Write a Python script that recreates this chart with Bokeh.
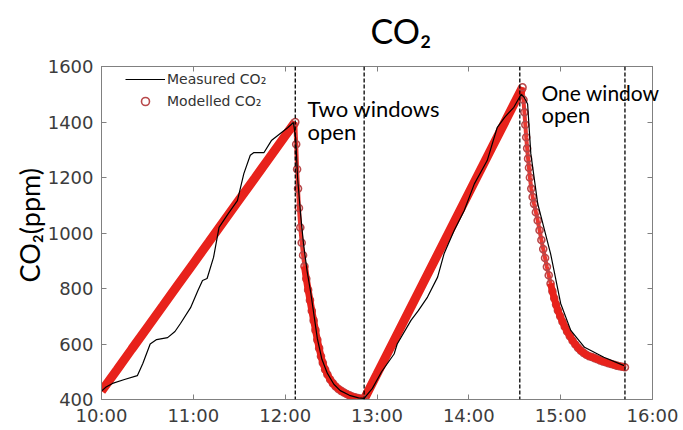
from bokeh.plotting import figure
from bokeh.models import (Span, Label, LinearAxis, FixedTicker, Legend, LegendItem, Range1d)
from bokeh.embed import file_html
from bokeh.resources import INLINE
import math

# ---------------- data (hours of day, ppm) ----------------
measured_t = [10.00, 10.05, 10.12, 10.25, 10.39, 10.45, 10.53, 10.60, 10.72, 10.80,
              10.86, 10.97, 11.05, 11.10, 11.15, 11.22, 11.28, 11.38, 11.48, 11.55,
              11.62, 11.66, 11.77, 11.85, 12.03, 12.09, 12.115, 12.135, 12.17, 12.20,
              12.24, 12.28, 12.35, 12.40, 12.46, 12.53, 12.60, 12.70, 12.80, 12.86,
              12.95, 13.05, 13.186, 13.22, 13.37, 13.45, 13.55, 13.66, 13.73, 13.84,
              13.95, 14.06, 14.20, 14.31, 14.39, 14.49, 14.57, 14.60, 14.64, 14.675,
              14.75, 14.89, 15.00, 15.11, 15.26, 15.47, 15.69]
measured_co2 = [430, 445, 458, 472, 486, 530, 600, 616, 623, 645,
                674, 731, 793, 829, 836, 912, 1020, 1070, 1117, 1214,
                1280, 1290, 1290, 1333, 1380, 1398, 1340, 1200, 1060, 960,
                860, 782, 620, 545, 494, 455, 432, 415, 406, 404,
                440, 500, 564, 600, 685, 720, 769, 841, 925, 1009,
                1081, 1177, 1261, 1381, 1417, 1453, 1500, 1490, 1465, 1286,
                1106, 926, 746, 649, 588, 552, 522]

rise1_t = [10.00, 10.17, 10.33, 10.50, 10.67, 10.83, 11.00, 11.17, 11.33, 11.50,
           11.67, 11.83, 12.00, 12.11]
rise1_co2 = [430, 508, 582, 660, 738, 812, 890, 968, 1042, 1120,
             1198, 1272, 1350, 1400]

decay1_t = [12.110, 12.120, 12.130, 12.140, 12.150, 12.165, 12.180, 12.195, 12.210, 12.230,
            12.250, 12.270, 12.290, 12.310, 12.330, 12.350, 12.370, 12.390, 12.410, 12.435,
            12.460, 12.490, 12.520, 12.550, 12.580, 12.610, 12.640, 12.670, 12.700, 12.730,
            12.760, 12.790, 12.820, 12.860]
decay1_co2 = [1400, 1320, 1230, 1160, 1090, 1020, 965, 920, 880, 835,
              795, 758, 720, 685, 650, 615, 585, 556, 532, 508,
              490, 472, 458, 447, 438, 431, 425, 420, 415, 411,
              408, 405, 403, 401]

rise2_t = [12.86, 13.00, 13.25, 13.50, 13.75, 14.00, 14.25, 14.50, 14.585]
rise2_co2 = [401, 492, 655, 818, 981, 1144, 1307, 1470, 1525]

decay2_t = [14.585, 14.595, 14.605, 14.615, 14.625, 14.635, 14.645, 14.655, 14.665, 14.680,
            14.695, 14.710, 14.730, 14.750, 14.770, 14.790, 14.810, 14.830, 14.850, 14.870,
            14.890, 14.910, 14.930, 14.950, 14.970, 14.995, 15.020, 15.045, 15.070, 15.100,
            15.130, 15.160, 15.190, 15.220, 15.250, 15.280, 15.310, 15.340, 15.370, 15.400,
            15.430, 15.460, 15.490, 15.520, 15.550, 15.580, 15.610, 15.640, 15.670, 15.700]
decay2_co2 = [1525, 1480, 1435, 1390, 1345, 1305, 1268, 1235, 1200, 1160,
              1130, 1105, 1075, 1045, 1010, 975, 942, 910, 878, 848,
              818, 790, 765, 742, 721, 700, 680, 662, 645, 628,
              612, 598, 586, 576, 568, 561, 556, 553, 549, 545,
              541, 537, 534, 531, 528, 525, 522, 520, 518, 516]

window_events = [12.11, 12.86, 14.555, 15.70]

x_ticks = [10, 11, 12, 13, 14, 15, 16]
x_tick_labels = ["10:00", "11:00", "12:00", "13:00", "14:00", "15:00", "16:00"]
y_ticks = [400, 600, 800, 1000, 1200, 1400, 1600]

# ---------------- figure ----------------
W, H = 683, 430
p = figure(width=W, height=H, output_backend="svg", toolbar_location=None,
           x_range=Range1d(10, 16), y_range=Range1d(400, 1600),
           min_border_left=101, min_border_right=31, min_border_top=66,
           min_border_bottom=31)
p.background_fill_color = "white"
p.border_fill_color = "white"
p.outline_line_color = "#808080"
p.outline_line_width = 1
p.xgrid.grid_line_color = None
p.ygrid.grid_line_color = None

TICK_FONT = "DejaVu Sans"
TICK_COLOR = "#3c3c3c"
AX_COLOR = "#808080"

def style_axis(ax, show_labels=True, standoff=5):
    ax.axis_line_color = AX_COLOR
    ax.major_tick_line_color = AX_COLOR
    ax.major_tick_in = 5
    ax.major_tick_out = 0
    ax.minor_tick_line_color = None
    ax.major_label_text_font = TICK_FONT
    ax.major_label_text_font_size = "18px" if show_labels else "0px"
    ax.major_label_text_color = TICK_COLOR
    ax.major_label_standoff = standoff

p.xaxis.ticker = FixedTicker(ticks=x_ticks)
p.xaxis.major_label_overrides = {t: s for t, s in zip(x_ticks, x_tick_labels)}
p.yaxis.ticker = FixedTicker(ticks=y_ticks)
style_axis(p.xaxis[0], standoff=5)
style_axis(p.yaxis[0], standoff=8)

top_ax = LinearAxis(ticker=FixedTicker(ticks=x_ticks))
right_ax = LinearAxis(ticker=FixedTicker(ticks=y_ticks))
style_axis(top_ax, False, standoff=0)
style_axis(right_ax, False, standoff=0)
top_ax.major_label_text_alpha = 0
right_ax.major_label_text_alpha = 0
p.add_layout(top_ax, "above")
p.add_layout(right_ax, "right")

for t in window_events:
    p.add_layout(Span(location=t, dimension="height", line_color="black",
                      line_dash="4 2", line_width=1.3))

RED = "#e8221b"
CIRC = "#b8484a"

p.line(rise1_t, rise1_co2, line_color=RED, line_width=9)
p.line(rise2_t, rise2_co2, line_color=RED, line_width=9)
p.line(decay1_t, decay1_co2, line_color=RED, line_width=4, line_alpha=0.9)
p.line(decay2_t, decay2_co2, line_color=RED, line_width=4, line_alpha=0.9)
m1 = p.scatter(decay1_t, decay1_co2, marker="circle", size=7, fill_color=None,
               line_color=CIRC, line_width=1.6)
p.scatter(decay2_t, decay2_co2, marker="circle", size=7, fill_color=None,
          line_color=CIRC, line_width=1.6)
p.line(decay1_t[8:], decay1_co2[8:], line_color=RED, line_width=7)
p.line(decay2_t[20:], decay2_co2[20:], line_color=RED, line_width=7)

meas = p.line(measured_t, measured_co2, line_color="black", line_width=1.2)

legend = Legend(items=[LegendItem(label="Measured CO\u2082", renderers=[meas]),
                       LegendItem(label="Modelled CO\u2082", renderers=[m1])],
                location=(24, 288), orientation="vertical",
                glyph_width=40, glyph_height=20, label_height=20, spacing=2,
                label_standoff=2, padding=0, margin=0,
                label_text_font=TICK_FONT, label_text_font_size="14px",
                label_text_color="#333333",
                border_line_color=None, background_fill_alpha=0)
p.add_layout(legend)

# ---------------- texts ----------------
FX, FY = 101, 409
ANN_FONT = "Lato"
def make_label(text, x, y, size, angle=0.0):
    return Label(x=x, y=y, x_units="screen", y_units="screen", text=text,
                 text_font=ANN_FONT, text_font_size=size, text_color="black",
                 angle=angle, text_baseline="alphabetic", text_align="left")

p.add_layout(make_label("Two windows", 307 - FX, FY - 118, "22px"))
p.add_layout(make_label("open", 307 - FX, FY - 141, "22px"))
p.add_layout(make_label("open", 541 - FX, FY - 124, "22px"))

# texts reaching outside the frame live in side panels (not clipped)
p.add_layout(make_label("One window", 541 - FX, -26, "21px"), "above")
p.add_layout(make_label("CO\u2082", 370 - FX, 11, "34px"), "above")
p.add_layout(make_label("CO\u2082(ppm)", 18, 399 - 282, "27px", angle=math.pi / 2), "left")

open("out.html", "w").write(file_html(p, INLINE))
